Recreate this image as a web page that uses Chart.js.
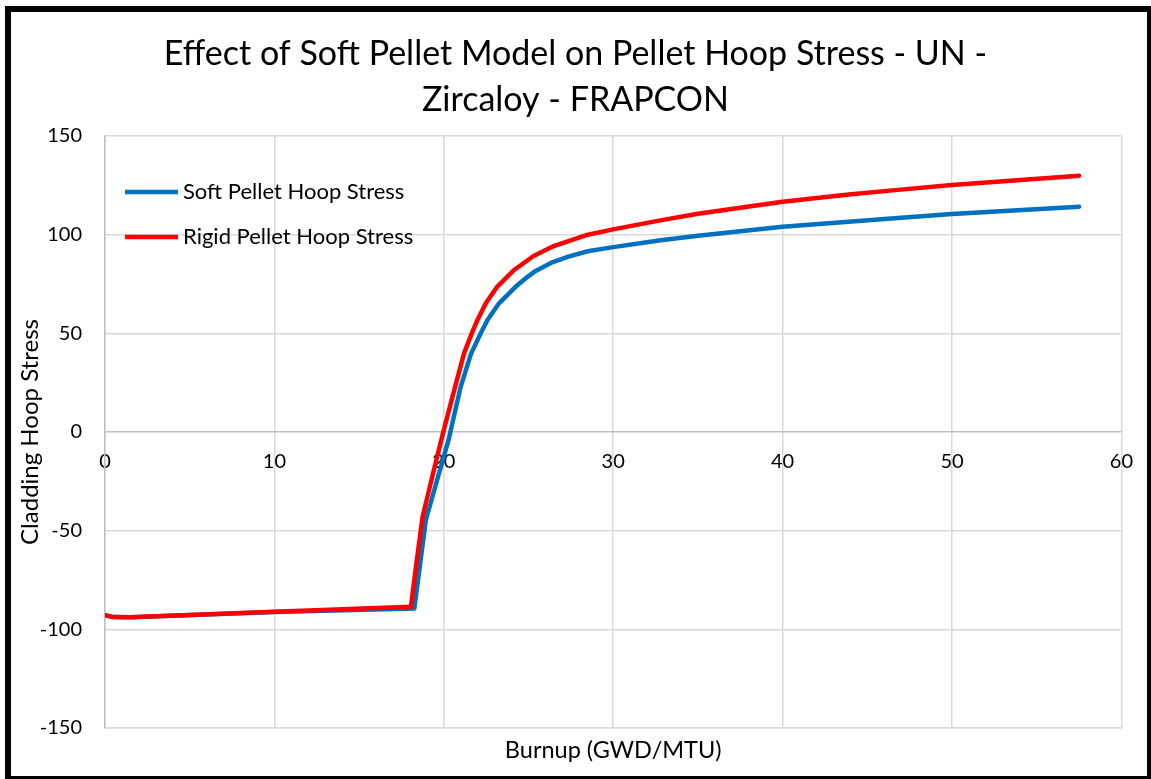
<!DOCTYPE html>
<html>
<head>
<meta charset="utf-8">
<script src="https://cdn.jsdelivr.net/npm/chart.js@4"></script>
<style>
  html, body { margin: 0; padding: 0; background: #fff; }
  #wrap { position: relative; width: 1151px; height: 779px; }
</style>
</head>
<body>
<div id="wrap"><canvas id="c" width="1151" height="779"></canvas></div>
<script>
// Chart text
const titleLines = ['Effect of Soft Pellet Model on Pellet Hoop Stress - UN -', 'Zircaloy - FRAPCON'];
const xAxisTitle = 'Burnup (GWD/MTU)';
const yAxisTitle = 'Cladding Hoop Stress';
const seriesNames = ['Soft Pellet Hoop Stress', 'Rigid Pellet Hoop Stress'];

// Tick values
const xTickValues = [0, 10, 20, 30, 40, 50, 60];
const yTickValues = [-150, -100, -50, 0, 50, 100, 150];

// Soft pellet model: burnup (GWD/MTU) and cladding hoop stress
const burnupSoft = [0, 0.5, 1.5, 10, 18.26, 18.6, 18.94, 19.6, 20.28, 21.0, 21.6, 22.18, 22.58, 23.26, 24.25, 25.0, 25.4, 26.4, 27.4, 28.5, 30, 32.7, 35, 40, 43.9, 46.8, 50, 57.5];
const stressSoft = [-92.8, -93.8, -93.9, -91.2, -89.4, -67, -44.6, -24.5, -4, 23, 39.5, 50, 56.8, 65.2, 73.7, 79, 81.5, 86, 89, 91.6, 93.7, 97.0, 99.5, 104, 106.6, 108.5, 110.5, 114.2];

// Rigid pellet model: burnup (GWD/MTU) and cladding hoop stress
const burnupRigid = [0, 0.5, 1.5, 10, 18.06, 18.4, 18.75, 19.35, 19.97, 20.67, 21.2, 21.65, 21.99, 22.48, 23.16, 24.15, 25.3, 26.4, 28.37, 30, 32.7, 35, 40, 43.9, 46.8, 50, 57.5];
const stressRigid = [-92.8, -93.8, -93.9, -91.1, -88.5, -65.5, -42.9, -21.5, 0, 23, 40, 50, 56.8, 65.2, 73.7, 82.1, 89.2, 93.9, 99.7, 102.7, 107.1, 110.6, 116.7, 120.3, 122.7, 125.2, 129.9];

const FONT = 'Lato, "Open Sans", sans-serif';
Chart.defaults.font.family = FONT;
Chart.defaults.color = '#000';

const toPoints = (xs, ys) => xs.map((x, i) => ({ x: x, y: ys[i] }));

// Legend drawn inside the plot area, top-left
const insideLegend = {
  id: 'insideLegend',
  afterDraw(chart) {
    const ctx = chart.ctx;
    const area = chart.chartArea;
    ctx.save();
    ctx.font = '22px ' + FONT;
    ctx.textBaseline = 'middle';
    ctx.textAlign = 'left';
    chart.data.datasets.forEach((ds, i) => {
      const y = area.top + 56 + i * 45;
      const x0 = area.left + 20;
      ctx.strokeStyle = ds.borderColor;
      ctx.lineWidth = 4.5;
      ctx.lineCap = 'butt';
      ctx.beginPath();
      ctx.moveTo(x0, y);
      ctx.lineTo(x0 + 53, y);
      ctx.stroke();
      ctx.fillStyle = '#000';
      ctx.fillText(ds.label, x0 + 58, y);
    });
    ctx.restore();
  }
};

// Black frame around the whole chart
const outerFrame = {
  id: 'outerFrame',
  afterDraw(chart) {
    const ctx = chart.ctx;
    ctx.save();
    ctx.strokeStyle = '#000';
    ctx.lineWidth = 6;
    ctx.strokeRect(8, 9, 1142, 770);
    ctx.restore();
  }
};

const lineStyle = {
  borderWidth: 4.5,
  pointRadius: 0,
  tension: 0,
  borderCapStyle: 'round',
  borderJoinStyle: 'round',
  fill: false,
  xAxisID: 'x',
  yAxisID: 'y'
};

new Chart(document.getElementById('c'), {
  type: 'line',
  data: {
    datasets: [
      Object.assign({
        label: seriesNames[0],
        data: toPoints(burnupSoft, stressSoft),
        borderColor: '#0070C0',
        order: 1
      }, lineStyle),
      Object.assign({
        label: seriesNames[1],
        data: toPoints(burnupRigid, stressRigid),
        borderColor: '#FF0000',
        order: 0
      }, lineStyle)
    ]
  },
  options: {
    responsive: false,
    animation: false,
    events: [],
    layout: { padding: 0 },
    plugins: {
      legend: { display: false },
      tooltip: { enabled: false },
      title: {
        display: true,
        text: titleLines,
        color: '#000',
        font: { family: FONT, size: 34, weight: 'normal', lineHeight: 46 / 34 },
        padding: { top: 31, bottom: 13 }
      }
    },
    scales: {
      x: {
        type: 'linear',
        position: 'bottom',
        min: 0,
        max: 60,
        afterBuildTicks: s => { s.ticks = xTickValues.map(v => ({ value: v })); },
        afterFit: s => { s.height = 51; },
        ticks: { display: false },
        grid: { color: '#d9d9d9', lineWidth: 1.5, drawTicks: false },
        border: { color: '#d9d9d9', width: 1.5 },
        title: {
          display: true,
          text: xAxisTitle,
          color: '#000',
          font: { family: FONT, size: 23.5 },
          padding: { top: 8, bottom: 14.8 }
        }
      },
      xt: {
        type: 'linear',
        axis: 'x',
        position: { y: 0 },
        min: 0,
        max: 60,
        afterBuildTicks: s => { s.ticks = xTickValues.map(v => ({ value: v })); },
        ticks: { color: '#000', font: { family: FONT, size: 20 }, padding: 18, maxRotation: 0, autoSkip: false },
        grid: { display: false, drawTicks: false },
        border: { display: false }
      },
      y: {
        type: 'linear',
        position: 'left',
        min: -150,
        max: 150,
        afterBuildTicks: s => { s.ticks = yTickValues.map(v => ({ value: v })); },
        afterFit: s => { s.width = 105; },
        ticks: { color: '#000', font: { family: FONT, size: 20 }, padding: 23 },
        grid: {
          color: c => (c.tick && c.tick.value === 0 ? '#bfbfbf' : '#d9d9d9'),
          lineWidth: 1.5,
          drawTicks: false
        },
        border: { color: '#bfbfbf', width: 1.5 },
        title: {
          display: true,
          text: yAxisTitle,
          color: '#000',
          font: { family: FONT, size: 24 },
          padding: { top: 15.6, bottom: 0 }
        }
      },
      // empty right-hand margin axis
      yr: {
        type: 'linear',
        axis: 'y',
        position: 'right',
        min: -150,
        max: 150,
        afterFit: s => { s.width = 27; },
        ticks: { display: false },
        grid: { display: false, drawTicks: false },
        border: { display: false }
      }
    }
  },
  plugins: [insideLegend, outerFrame]
});
</script>
</body>
</html>
